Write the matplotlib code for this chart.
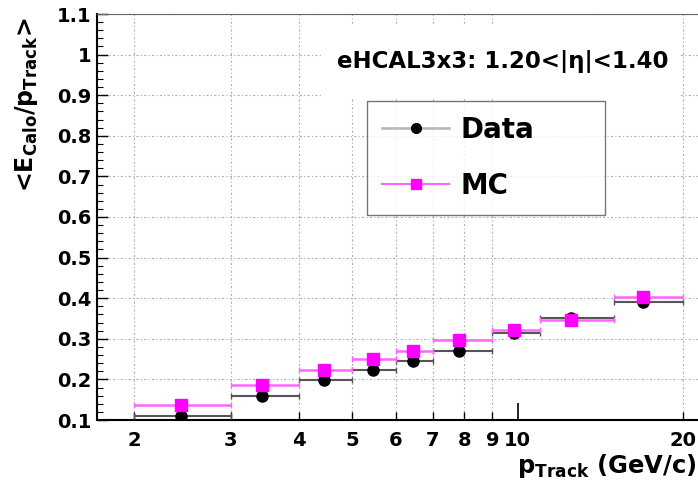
import numpy as np
import matplotlib
matplotlib.use("Agg")
import matplotlib.pyplot as plt
from matplotlib.ticker import FixedLocator, MultipleLocator, FormatStrFormatter
from matplotlib.patches import Rectangle
from matplotlib.lines import Line2D

plt.rcParams['font.family'] = ['DejaVu Sans']
plt.rcParams['font.weight'] = 'bold'
plt.rcParams['mathtext.default'] = 'regular'

# bin edges in p_Track (GeV/c)
bin_lo = np.array([2., 3., 4., 5., 6., 7., 9., 11., 15.])
bin_hi = np.array([3., 4., 5., 6., 7., 9., 11., 15., 20.])
p_mean = np.array([2.44, 3.43, 4.44, 5.45, 6.45, 7.83, 9.86, 12.5, 16.9])

resp_data = np.array([0.111, 0.160, 0.198, 0.223, 0.245, 0.270, 0.314, 0.352, 0.390])
resp_mc = np.array([0.137, 0.186, 0.223, 0.250, 0.271, 0.297, 0.322, 0.346, 0.402])

xticks_lab = [2, 3, 4, 5, 6, 7, 8, 9, 20]

fig = plt.figure(figsize=(6.98, 4.88), dpi=100)
ax = fig.add_axes([97/698, 68/488, 603/698, 406/488])
ax.set_xscale('log')
ax.set_xlim(1.713, 21.5)
ax.set_ylim(0.1, 1.1)

xerr = [p_mean - bin_lo, bin_hi - p_mean]
ax.errorbar(p_mean, resp_data, xerr=xerr, fmt='o', color='black', ecolor='#555555',
            elinewidth=1.5, capsize=2.5, capthick=1.0, markersize=8, zorder=3)
ax.errorbar(p_mean, resp_mc, xerr=xerr, fmt='s', color='#ff00ff', ecolor='#ff66ff',
            elinewidth=1.8, capsize=2.5, capthick=1.0, markersize=8, zorder=4)

# axes ticks, ROOT-like
ax.xaxis.set_major_locator(FixedLocator([10]))
ax.xaxis.set_minor_locator(FixedLocator(xticks_lab))
ax.xaxis.set_major_formatter(FormatStrFormatter('%g'))
ax.xaxis.set_minor_formatter(FormatStrFormatter('%g'))
ax.yaxis.set_major_locator(MultipleLocator(0.1))
ax.yaxis.set_minor_locator(MultipleLocator(0.02))
ax.yaxis.set_major_formatter(FormatStrFormatter('%g'))
ax.tick_params(axis='both', which='both', direction='in', labelsize=14)
ax.tick_params(axis='x', which='major', length=12, width=1.2, pad=8)
ax.tick_params(axis='x', which='minor', length=6, width=1, pad=8)
ax.tick_params(axis='y', which='major', length=8, width=1, pad=4)
ax.tick_params(axis='y', which='minor', length=4, width=0.8)
for lab in ax.get_xticklabels(which='both') + ax.get_yticklabels():
    lab.set_fontweight('bold')

gridstyle = dict(color='#b0b0b0', linestyle=(0, (2, 2, 1, 2)), linewidth=0.8)
ax.grid(True, axis='x', which='minor', **gridstyle)
ax.grid(True, axis='y', which='major', **gridstyle)
ax.set_axisbelow(True)
for s in ['left', 'bottom']:
    ax.spines[s].set_linewidth(1.5)
ax.spines['top'].set_color('#666666')

# white pave with the eta range text
ax.add_patch(Rectangle((0.375, 0.793), 0.592, 0.182, transform=ax.transAxes,
                       facecolor='white', edgecolor='none', zorder=2.5))
ax.text(0.673, 0.882, 'eHCAL3x3: 1.20<|\u03b7|<1.40', transform=ax.transAxes,
        ha='center', va='center', fontsize=16.5, fontweight='bold', zorder=5)

handles = [Line2D([], [], color='#bbbbbb', lw=2, marker='o', markersize=7,
                  markerfacecolor='black', markeredgecolor='black'),
           Line2D([], [], color='#ff66ff', lw=1.5, marker='s', markersize=7,
                  markerfacecolor='#ff00ff', markeredgecolor='#ff00ff')]
leg = ax.legend(handles, ['Data', 'MC'], loc='upper left',
                bbox_to_anchor=(0.448, 0.510, 0.395, 0.276), mode='expand', borderaxespad=0,
                frameon=True, fancybox=False, edgecolor='#555555',
                handlelength=2.4, handletextpad=0.4, labelspacing=1.0, borderpad=0.55,
                prop={'weight': 'bold', 'size': 20})
leg.get_frame().set_linewidth(1.0)
leg.set_zorder(6)

fig.text(27/698, 1 - 18/488, r'<E$_{Calo}$/p$_{Track}$>', rotation=90, ha='center', va='top',
         fontsize=17, fontweight='bold')
fig.text(697/698, 1 - 466/488, r'p$_{Track}$ (GeV/c)', ha='right', va='center',
         fontsize=17.5, fontweight='bold')

fig.savefig('out.png', dpi=100)
